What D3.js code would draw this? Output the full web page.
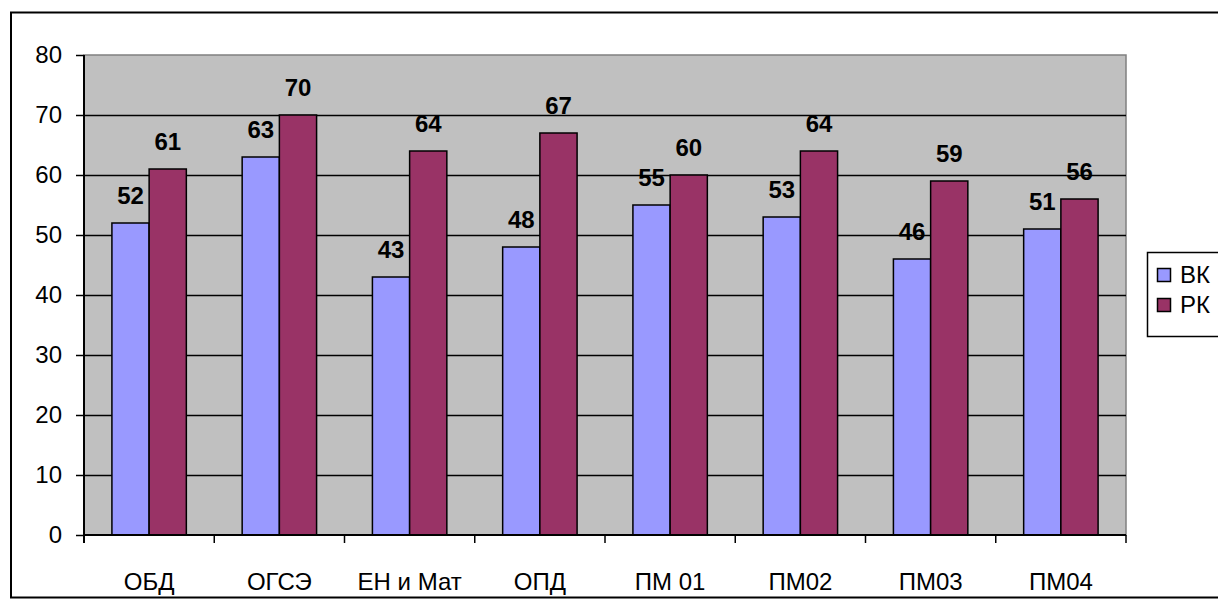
<!DOCTYPE html>
<html><head><meta charset="utf-8">
<script src="https://cdn.jsdelivr.net/npm/d3@7"></script>
<style>
html,body{margin:0;padding:0;background:#fff;}
svg{display:block;font-family:"Liberation Sans",Arial,sans-serif;}
</style></head>
<body>
<svg id="chart" width="1218" height="608"></svg>
<script>
const categories = ["ОБД","ОГСЭ","ЕН и Мат","ОПД","ПМ 01","ПМ02","ПМ03","ПМ04"];
const seriesNames = ["ВК","РК"];
const vkValues = [52,63,43,48,55,53,46,51];
const rkValues = [61,70,64,67,60,64,59,56];
const yTicks = [0,10,20,30,40,50,60,70,80];
const colors = ["#9999FF","#993366"];

const svg = d3.select("#chart");
const L = 84, R = 1126, T = 55, B = 535;
const FS = 24;

// chart border
svg.append("rect").attr("x",11).attr("y",12.5).attr("width",1230).attr("height",585)
  .attr("fill","#fff").attr("stroke","#000").attr("stroke-width",2);

const x = d3.scaleBand().domain(categories).range([L,R]).padding(0);
const xs = d3.scaleBand().domain(seriesNames).range([0,x.bandwidth()]).paddingInner(0).paddingOuter(0.75);
const y = d3.scaleLinear().domain([0,80]).range([B,T]);

// plot background
svg.append("rect").attr("x",L).attr("y",T).attr("width",R-L).attr("height",B-T)
  .attr("fill","#C0C0C0").attr("stroke","#808080").attr("stroke-width",1.5);

// gridlines
svg.append("g").selectAll("line").data(yTicks.filter(d=>d>0 && d<80)).join("line")
  .attr("x1",L).attr("x2",R).attr("y1",d=>Math.round(y(d))+0.5).attr("y2",d=>Math.round(y(d))+0.5)
  .attr("stroke","#000").attr("stroke-width",1.5);

const data = categories.map((c,i)=>({c, vals:[vkValues[i],rkValues[i]]}));

const groups = svg.append("g").selectAll("g").data(data).join("g")
  .attr("transform",d=>`translate(${x(d.c)},0)`);
groups.selectAll("rect").data(d=>d.vals.map((v,j)=>({s:seriesNames[j],v,j}))).join("rect")
  .attr("x",d=>xs(d.s)).attr("width",xs.bandwidth())
  .attr("y",d=>y(d.v)).attr("height",d=>y(0)-y(d.v))
  .attr("fill",d=>colors[d.j]).attr("stroke","#000").attr("stroke-width",1.5);
groups.selectAll("text").data(d=>d.vals.map((v,j)=>({s:seriesNames[j],v,j}))).join("text")
  .attr("x",d=>xs(d.s)+xs.bandwidth()/2).attr("y",d=>y(d.v)-19)
  .attr("text-anchor","middle").attr("font-size",FS).attr("font-weight","bold").attr("fill","#000")
  .text(d=>d.v);

// y axis
const yAxis = d3.axisLeft(y).tickValues(yTicks).tickSize(8).tickPadding(14);
const gy = svg.append("g").attr("transform",`translate(${L},0)`).call(yAxis);
gy.select(".domain").attr("stroke","#000").attr("stroke-width",2).attr("d",`M0,${T}V${B+8}`);
gy.selectAll(".tick line").attr("stroke","#000").attr("stroke-width",1.5);
gy.selectAll(".tick text").attr("font-size",FS).attr("font-family","Liberation Sans, Arial, sans-serif").attr("fill","#000");

// x axis
const xAxis = d3.axisBottom(x).tickSize(0).tickPadding(38);
const gx = svg.append("g").attr("transform",`translate(0,${B})`).call(xAxis);
gx.select(".domain").attr("stroke","#000").attr("stroke-width",2).attr("d",`M${L},0H${R}`);
gx.selectAll(".tick text").attr("font-size",FS).attr("font-family","Liberation Sans, Arial, sans-serif").attr("fill","#000");
const bounds = categories.map(c=>x(c)).concat([x.range()[1]]);
gx.append("g").selectAll("line").data(bounds).join("line")
  .attr("x1",d=>d).attr("x2",d=>d).attr("y1",0).attr("y2",8)
  .attr("stroke","#000").attr("stroke-width",1.5);

// legend
const lg = svg.append("g");
lg.append("rect").attr("x",1147.5).attr("y",252.5).attr("width",100).attr("height",84)
  .attr("fill","#fff").attr("stroke","#000").attr("stroke-width",1.5);
seriesNames.forEach((s,i)=>{
  lg.append("rect").attr("x",1157.5).attr("y",268.5+i*30).attr("width",13).attr("height",13)
    .attr("fill",colors[i]).attr("stroke","#000").attr("stroke-width",1.5);
  lg.append("text").attr("x",1180).attr("y",283+i*30).attr("font-size",FS).attr("fill","#000").text(s);
});
</script>
</body></html>
